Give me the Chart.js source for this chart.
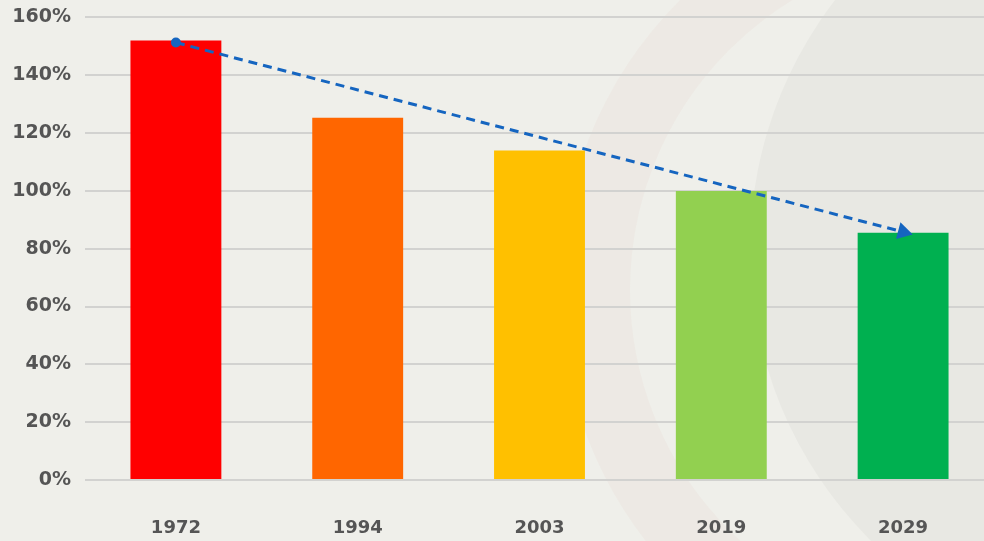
<!DOCTYPE html>
<html>
<head>
<meta charset="utf-8">
<script src="https://cdn.jsdelivr.net/npm/chart.js@4"></script>
<style>
  html, body { margin: 0; padding: 0; overflow: hidden; }
  body {
    width: 984px; height: 541px;
    background: #efefea;
    position: relative;
  }
  .wm {
    position: absolute; left: 750px; top: -160px;
    width: 820px; height: 820px; border-radius: 50%;
    background: #e8e8e3;
  }
  .wm2 {
    position: absolute; left: 560px; top: -120px;
    width: 820px; height: 820px; border-radius: 50%;
    border: 70px solid rgba(225, 185, 175, 0.10);
    box-sizing: border-box;
  }
  #wrap { position: absolute; left: 0; top: -8px; width: 1004px; height: 549px; }
</style>
</head>
<body>
<div class="wm"></div>
<div class="wm2"></div>
<div id="wrap"><canvas id="chart"></canvas></div>
<script>
'use strict';

const years      = ['1972', '1994', '2003', '2019', '2029'];
const ratios     = [152, 125.3, 114, 100, 85.5];
const barColors  = ['#ff0000', '#ff6600', '#ffc000', '#92d050', '#00b050'];
const trendLine  = [151.3, null, null, null, 85.8];
const yTicks     = [0, 20, 40, 60, 80, 100, 120, 140, 160];

const textColor = '#555555';
const gridColor = '#d2d2d0';

new Chart(document.getElementById('chart'), {
  data: {
    labels: years,
    datasets: [
      {
        type: 'line',
        data: trendLine,
        spanGaps: true,
        borderColor: '#1565c0',
        backgroundColor: '#1565c0',
        borderWidth: 3,
        borderDash: [9, 6],
        pointStyle: ['circle', false, false, false, 'triangle'],
        pointRotation: [0, 0, 0, 0, 104.6],
        pointRadius: [5, 0, 0, 0, 10],
        pointBorderWidth: 0,
        fill: false,
        order: 0,
      },
      {
        type: 'bar',
        data: ratios,
        backgroundColor: barColors,
        borderWidth: 0,
        categoryPercentage: 1,
        barPercentage: 0.5,
        order: 1,
      },
    ],
  },
  options: {
    responsive: true,
    maintainAspectRatio: false,
    animation: false,
    layout: { padding: 0 },
    plugins: {
      legend: { display: false },
      tooltip: { enabled: false },
    },
    scales: {
      y: {
        min: 0, max: 160,
        afterBuildTicks: (scale) => { scale.ticks = yTicks.map((v) => ({ value: v })); },
        afterFit: (scale) => { scale.width = 85; },
        ticks: {
          padding: 14,
          color: textColor,
          font: { family: 'DejaVu Sans', weight: 'bold', size: 19 },
          callback: (v) => v + '%',
        },
        grid: { color: gridColor, lineWidth: 2, drawTicks: false },
        border: { display: false },
      },
      x: {
        afterFit: (scale) => { scale.height = 61; },
        ticks: {
          padding: 38,
          color: textColor,
          font: { family: 'DejaVu Sans', weight: 'bold', size: 18 },
        },
        grid: { display: false, drawTicks: false },
        border: { display: false },
      },
    },
  },
});
</script>
</body>
</html>
